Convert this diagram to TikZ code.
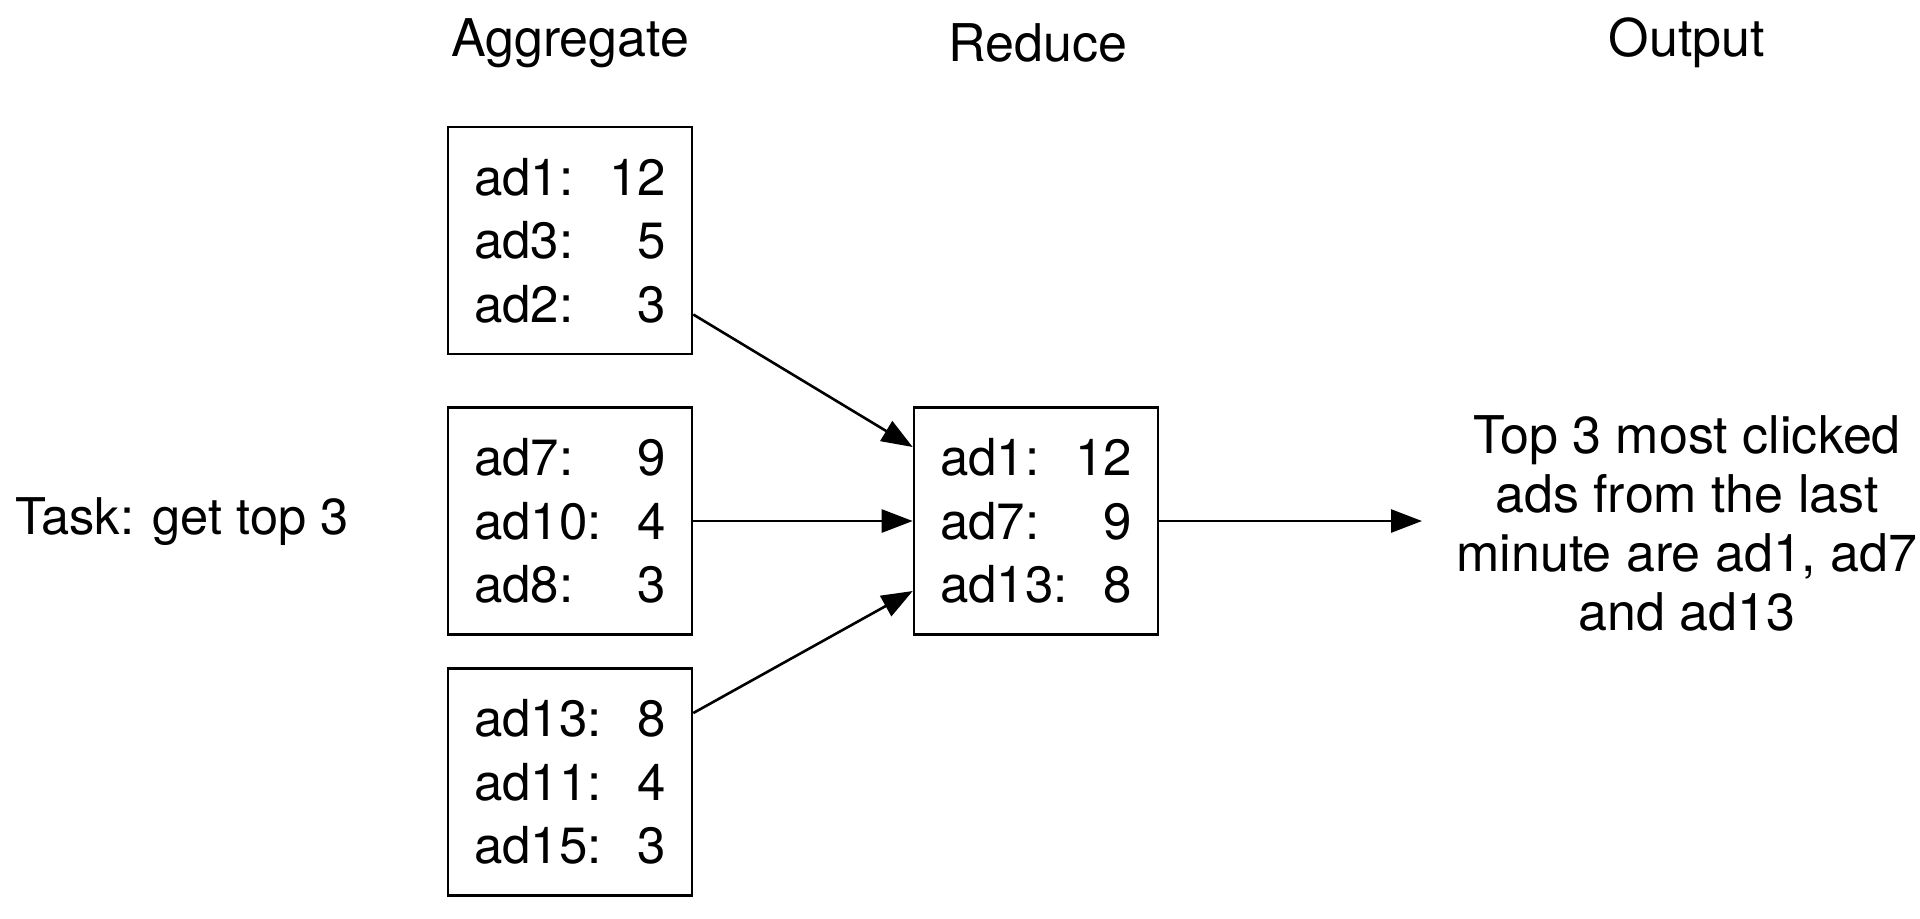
\documentclass[tikz,border=0pt]{standalone}
\usepackage{fontspec}
\setmainfont{TeX Gyre Heros}
\usetikzlibrary{arrows.meta}
\tikzset{
  databox/.style={draw, line width=1.3pt, minimum width=122pt, minimum height=113.5pt,
    inner sep=0pt, align=left, font=\fontsize{25.5}{31.8}\selectfont},
  label/.style={inner sep=0pt, font=\fontsize{26}{29.5}\selectfont},
  flow/.style={line width=1.3pt, -{Triangle[length=15.5pt,width=11.5pt]}}
}
\newcommand{\adrow}[2]{\hbox to 96pt{#1\hfill #2}}
\begin{document}
\begin{tikzpicture}[x=0.5pt,y=-0.5pt]
\useasboundingbox (0,0) rectangle (1920,918);
% headers
\node[label] (hagg) at (570,43) {Aggregate};
\node[label] (hred) at (1038,43) {Reduce};
\node[label] (hout) at (1687,43) {Output};
% task
\node[label, anchor=west, font=\fontsize{25.3}{29.5}\selectfont] (task) at (15,522) {Task: get top 3};
% aggregate boxes
\node[databox] (b1) at (570,240.5) {\adrow{ad1:}{12}\\\adrow{ad3:}{5}\\\adrow{ad2:}{3}};
\node[databox] (b2) at (570,521) {\adrow{ad7:}{9}\\\adrow{ad10:}{4}\\\adrow{ad8:}{3}};
\node[databox] (b3) at (570,782) {\adrow{ad13:}{8}\\\adrow{ad11:}{4}\\\adrow{ad15:}{3}};
% reduce box
\node[databox] (r) at (1036,521) {\adrow{ad1:}{12}\\\adrow{ad7:}{9}\\\adrow{ad13:}{8}};
% output
\node[label, align=center] (out) at (1687,523) {Top 3 most clicked\\ads from the last\\minute are ad1, ad7\\and ad13};
\coordinate (outend) at (1422,521);
% arrows
\draw[flow] ([yshift=-37pt]b1.east) -- ([yshift=37pt]r.west);
\draw[flow] (b2.east) -- (r.west);
\draw[flow] ([yshift=34.5pt]b3.east) -- ([yshift=-35pt]r.west);
\draw[flow] (r.east) -- (outend);
\end{tikzpicture}
\end{document}
